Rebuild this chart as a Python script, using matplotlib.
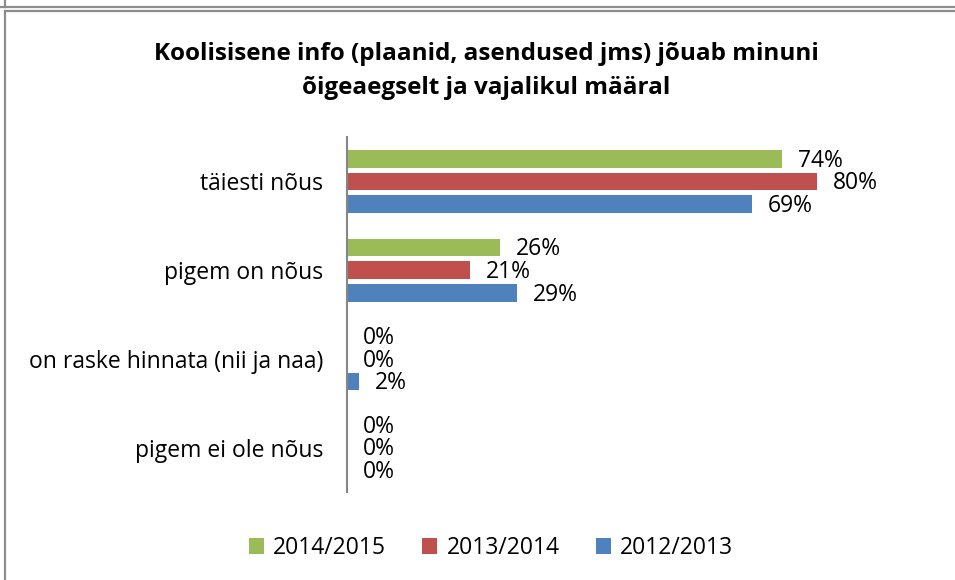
import matplotlib.pyplot as plt
import numpy as np
from matplotlib.lines import Line2D

categories = ["täiesti nõus", "pigem on nõus", "on raske hinnata (nii ja naa)", "pigem ei ole nõus"]
years = ["2014/2015", "2013/2014", "2012/2013"]
v_2014_2015 = [74, 26, 0, 0]
v_2013_2014 = [80, 21, 0, 0]
v_2012_2013 = [69, 29, 2, 0]
colors = ["#9bbb59", "#c0504d", "#4f81bd"]

plt.rcParams['font.family'] = ['Open Sans', 'DejaVu Sans']

W, H = 955, 580
fig = plt.figure(figsize=(W / 100, H / 100), dpi=100)

# frame lines (piece of previous box + this box)
gray = "#8c8c8c"
def fl(x0, y0, x1, y1):
    fig.add_artist(Line2D([x0 / W, x1 / W], [1 - y0 / H, 1 - y1 / H], color=gray, lw=1.6))
fl(0, 7, W, 7)
fl(5, 0, 5, 7)
fl(5, 11, W, 11)
fl(5, 11, 5, H)

# plot area
x0, x1 = 347, 347 + 100 * 5.875
ytop, ybot = 137, 492
ax = fig.add_axes([x0 / W, 1 - ybot / H, (x1 - x0) / W, (ybot - ytop) / H])

y = np.arange(len(categories))
bh = 0.2
step = 0.255
series = [v_2014_2015, v_2013_2014, v_2012_2013]
for i, (vals, c) in enumerate(zip(series, colors)):
    pos = y + (i - 1) * step
    ax.barh(pos, vals, height=bh, color=c, label=years[i])
    for p, v in zip(pos, vals):
        ax.text(v + 2.7, p + 0.02, f"{v}%", va="center", ha="left", fontsize=16.5)

ax.set_xlim(0, 100)
ax.set_ylim(len(categories) - 0.5, -0.5)
ax.set_yticks(y)
ax.set_yticklabels(categories, fontsize=16.5)
ax.tick_params(axis="y", length=0, pad=17)
ax.set_xticks([])
for s in ["top", "right", "bottom"]:
    ax.spines[s].set_visible(False)
ax.spines["left"].set_color("#868686")
ax.spines["left"].set_linewidth(1.5)

fig.text(486 / W, 1 - 54 / H, "Koolisisene info (plaanid, asendused jms) jõuab minuni",
         ha="center", va="center", fontsize=17.5, fontweight="bold")
fig.text(486 / W, 1 - 88 / H, "õigeaegselt ja vajalikul määral",
         ha="center", va="center", fontsize=17.5, fontweight="bold")

fig.legend(loc="center", bbox_to_anchor=(491 / W, 1 - 548 / H), ncol=3, frameon=False,
           fontsize=16.5, handlelength=0.65, handleheight=0.65, handletextpad=0.4,
           columnspacing=1.6)

fig.savefig("out.png", dpi=100)
